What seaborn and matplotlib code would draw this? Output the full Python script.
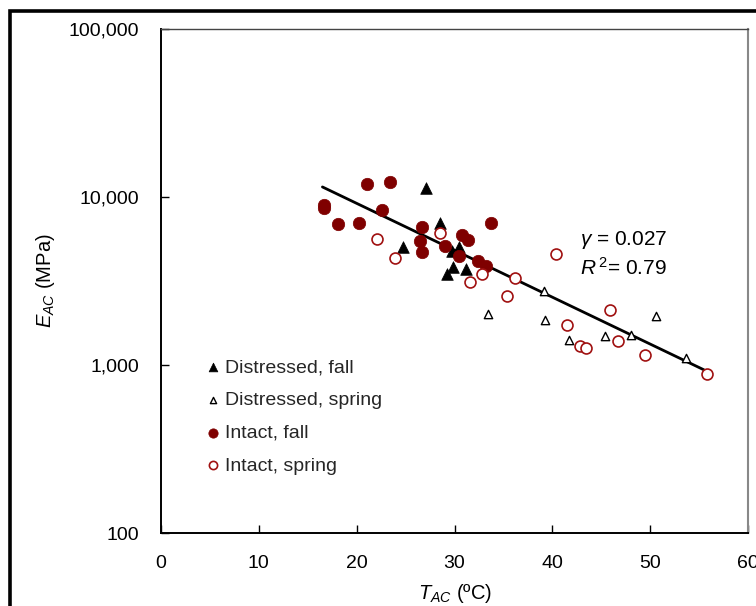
import numpy as np
import pandas as pd
import matplotlib
matplotlib.use("Agg")
import matplotlib.pyplot as plt
from matplotlib.patches import Rectangle
from matplotlib.ticker import FuncFormatter, FixedLocator, NullLocator
import seaborn as sns

# ---- data ----
dist_fall_T = [27.1, 28.5, 24.7, 29.7, 30.5, 29.8, 31.2, 29.2]
dist_fall_E = [11230, 6990, 5000, 4730, 5040, 3800, 3700, 3470]

dist_spring_T = [39.1, 33.4, 39.3, 41.7, 45.4, 48.0, 50.6, 53.7]
dist_spring_E = [2750, 2010, 1846, 1413, 1479, 1500, 1950, 1096]

intact_fall_T = [16.7, 16.7, 18.1, 20.2, 21.1, 23.4, 22.6, 26.7, 26.5, 26.7,
                 33.7, 30.8, 31.4, 29.0, 30.5, 32.4, 33.2]
intact_fall_E = [8900, 8600, 6900, 6950, 11900, 12180, 8300, 6600, 5470, 4670,
                 7000, 5890, 5520, 5070, 4420, 4160, 3870]

intact_spring_T = [22.1, 23.9, 28.5, 31.6, 32.8, 35.4, 36.2, 40.4, 45.9, 41.5,
                   46.7, 42.8, 43.4, 49.5, 55.8]
intact_spring_E = [5577, 4300, 6100, 3094, 3470, 2565, 3310, 4560, 2110, 1738,
                   1380, 1287, 1254, 1143, 878]

# trend line as shown in the reference: log10(E) = intercept + slope * T
trend_T_range = [16.5, 55.5]
trend_log10_intercept = 4.519
trend_log10_slope = -0.0279

series_labels = ["Distressed, fall", "Distressed, spring", "Intact, fall", "Intact, spring"]
x_ticks = [0, 10, 20, 30, 40, 50, 60]
y_ticks = [100, 1000, 10000, 100000]
gamma_text = "0.027"
r2_text = "0.79"

# ---- figure ----
sns.set_theme(style="white")
plt.rcParams['font.family'] = ['Liberation Sans', 'DejaVu Sans']
plt.rcParams['mathtext.fontset'] = 'custom'
plt.rcParams['mathtext.rm'] = 'Liberation Sans'
plt.rcParams['mathtext.it'] = 'Liberation Sans:italic'

fig = plt.figure(figsize=(7.56, 6.06), dpi=100)
ax = fig.add_axes([161/756, 1-533/606, (748-161)/756, (533-28.7)/606])

red = "#7f0000"
ored = "#a01010"

sns.scatterplot(x=dist_fall_T, y=dist_fall_E, ax=ax, marker="^", s=70,
                color="black", edgecolor="black", linewidth=0.5,
                label=series_labels[0], zorder=3)
sns.scatterplot(x=dist_spring_T, y=dist_spring_E, ax=ax, marker="^", s=36,
                facecolor="white", edgecolor="black", linewidth=1.0,
                label=series_labels[1], zorder=3)
sns.scatterplot(x=intact_fall_T, y=intact_fall_E, ax=ax, marker="o", s=80,
                color=red, edgecolor=red, linewidth=0.5,
                label=series_labels[2], zorder=3)
sns.scatterplot(x=intact_spring_T, y=intact_spring_E, ax=ax, marker="o", s=62,
                facecolor="white", edgecolor=ored, linewidth=1.2,
                label=series_labels[3], zorder=3)

xt = np.linspace(trend_T_range[0], trend_T_range[1], 50)
sns.lineplot(x=xt, y=10 ** (trend_log10_intercept + trend_log10_slope * xt), ax=ax,
             color="black", linewidth=2.0, zorder=2, legend=False)

ax.set_yscale("log")
ax.set_xlim(0, 60)
ax.set_ylim(100, 100000)
ax.xaxis.set_major_locator(FixedLocator(x_ticks))
ax.yaxis.set_major_locator(FixedLocator(y_ticks))
ax.yaxis.set_minor_locator(NullLocator())
ax.yaxis.set_major_formatter(FuncFormatter(lambda v, p: f"{int(round(v)):,}"))
ax.xaxis.set_major_formatter(FuncFormatter(lambda v, p: f"{int(round(v))}"))
ax.tick_params(axis="both", which="major", direction="in", length=6, width=1.0,
               color="black", labelsize=14, labelcolor="black")
ax.tick_params(axis="x", pad=16, top=False, bottom=True)
ax.tick_params(axis="y", pad=16, left=True, right=False)

for side in ["left", "bottom"]:
    ax.spines[side].set_color("black")
    ax.spines[side].set_linewidth(1.4)
ax.spines["top"].set_color("#444444")
ax.spines["top"].set_linewidth(1.0)
ax.spines["right"].set_color("#888888")
ax.spines["right"].set_linewidth(1.5)

ax.set_xlabel("$T_{AC}$ (ºC)", fontsize=14.5, color="black", labelpad=7)
ax.set_ylabel("$E_{AC}$ (MPa)", fontsize=14.5, color="black", labelpad=8)

ax.text(580/756, 1-240/606, r"$\gamma$ = " + gamma_text, transform=fig.transFigure,
        fontsize=15, va="center", ha="left", color="black")
ax.text(580/756, 1-268/606, r"$R^{\,2}$= " + r2_text, transform=fig.transFigure,
        fontsize=15, va="center", ha="left", color="black")

leg = ax.legend(loc="upper left", bbox_to_anchor=((190-161)/(748-161), (533-345)/(533-28.7)),
                frameon=False, fontsize=14, markerscale=0.75, handletextpad=0.1,
                labelspacing=0.78, handlelength=1.0, borderpad=0.2)

# outer chart border
fig.patches.append(Rectangle((10/756, -0.2), 1.2, 1.2 - 11/606,
                             transform=fig.transFigure, fill=False,
                             edgecolor="black", linewidth=2.6))

fig.savefig("out.png", dpi=100)
